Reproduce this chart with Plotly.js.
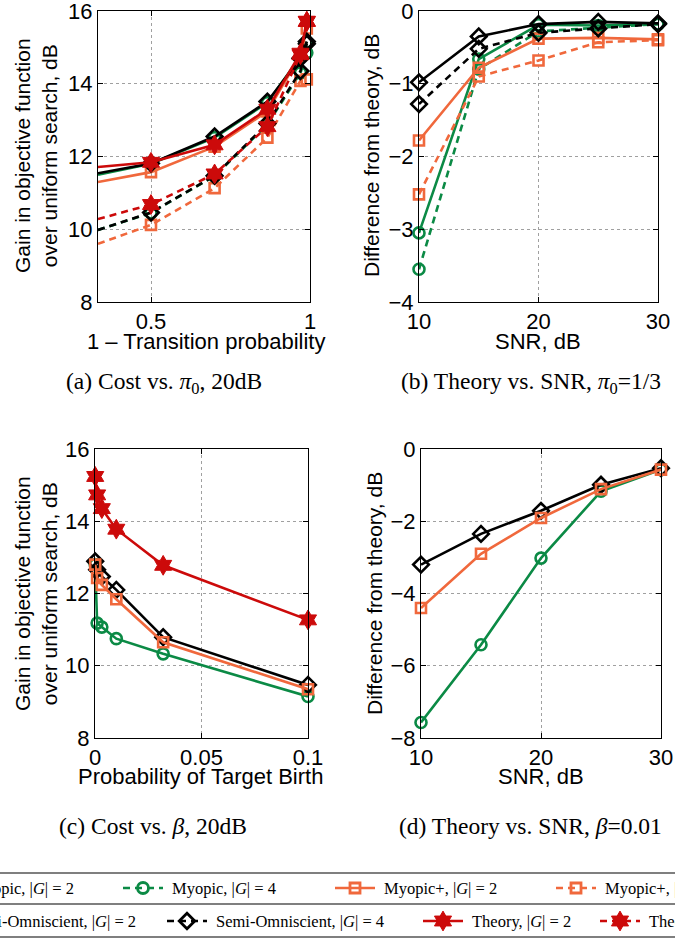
<!DOCTYPE html>
<html>
<head>
<meta charset="utf-8">
<script src="https://cdn.plot.ly/plotly-3.0.1.min.js"></script>
<style>html,body{margin:0;padding:0;background:#fff;}#chart{width:675px;height:939px;}</style>
</head>
<body>
<div id="chart"></div>
<script>
// ---------------- DATA ----------------
// Panel (a): Cost vs. pi0, 20dB
const xA = [0.3333, 0.5, 0.7, 0.866, 0.97, 0.99];
const aMyopic2  = [11.50, 11.80, 12.52, 13.48, 14.75, 15.15];
const aMyopic4  = [9.98, 10.45, 11.46, 12.88, 14.30, 14.85];
const aMyopicP2 = [11.30, 11.57, 12.27, 13.24, 14.78, 15.52];
const aMyopicP4 = [9.60, 10.12, 11.13, 12.52, 14.08, 14.12];
const aSemi2    = [11.54, 11.81, 12.55, 13.51, 14.70, 15.16];
const aSemi4    = [9.98, 10.46, 11.47, 12.91, 14.35, 15.10];
const aTheory2  = [11.71, 11.84, 12.32, 13.30, 14.84, 15.71];
const aTheory4  = [10.28, 10.68, 11.52, 12.82, 14.80, 15.72];

// Panel (b): Theory vs. SNR, pi0 = 1/3
const snrB = [10, 15, 20, 25, 30];
const bMyopic2  = [-3.05, -0.66, -0.19, -0.20, -0.18];
const bMyopic4  = [-3.55, -0.80, -0.28, -0.23, -0.18];
const bMyopicP2 = [-1.78, -0.78, -0.38, -0.37, -0.39];
const bMyopicP4 = [-2.52, -0.90, -0.68, -0.43, -0.40];
const bSemi2    = [-0.98, -0.35, -0.18, -0.15, -0.17];
const bSemi4    = [-1.28, -0.52, -0.30, -0.24, -0.18];

// Panel (c): Cost vs. beta, 20dB
const betaC = [0.0001, 0.001, 0.0032, 0.01, 0.032, 0.1];
const cMyopic2  = [12.80, 11.18, 11.07, 10.75, 10.33, 9.15];
const cMyopicP2 = [12.80, 12.43, 12.24, 11.84, 10.65, 9.35];
const cSemi2    = [12.89, 12.66, 12.47, 12.10, 10.79, 9.47];
const cTheory2  = [15.24, 14.73, 14.35, 13.78, 12.78, 11.27];

// Panel (d): Theory vs. SNR, beta = 0.01
const snrD = [10, 15, 20, 25, 30];
const dMyopic2  = [-7.57, -5.42, -3.02, -1.17, -0.57];
const dMyopicP2 = [-4.40, -2.90, -1.91, -1.11, -0.57];
const dSemi2    = [-3.20, -2.35, -1.71, -0.99, -0.53];

// Tick labels
const tickA = [0.5, 1], tickAText = ['0.5', '1'];
const tickGain = [8, 10, 12, 14, 16];
const tickSNR = [10, 20, 30];
const tickDiffB = [-4, -3, -2, -1, 0];
const tickC = [0, 0.05, 0.1], tickCText = ['0', '0.05', '0.1'];
const tickDiffD = [-8, -6, -4, -2, 0];

// Legend labels
const legendNames = {
  myopic2: 'Myopic, |<i>G</i>| = 2', myopic4: 'Myopic, |<i>G</i>| = 4',
  myopicP2: 'Myopic+, |<i>G</i>| = 2', myopicP4: 'Myopic+, |<i>G</i>| = 4',
  semi2: 'Semi-Omniscient, |<i>G</i>| = 2', semi4: 'Semi-Omniscient, |<i>G</i>| = 4',
  theory2: 'Theory, |<i>G</i>| = 2', theory4: 'Theory, |<i>G</i>| = 4'
};

// ---------------- STYLES ----------------
const GREEN = '#0b8a45', ORANGE = '#f0683c', RED = '#cc0a0a', BLACK = '#000000';
const DASH = '7px,5px';
const styles = {
  myopic2:  {color: GREEN,  dash: 'solid', symbol: 'circle-open', size: 11},
  myopic4:  {color: GREEN,  dash: DASH,    symbol: 'circle-open', size: 11},
  myopicP2: {color: ORANGE, dash: 'solid', symbol: 'square-open', size: 10},
  myopicP4: {color: ORANGE, dash: DASH,    symbol: 'square-open', size: 10},
  semi2:    {color: BLACK,  dash: 'solid', symbol: 'diamond-open', size: 12},
  semi4:    {color: BLACK,  dash: DASH,    symbol: 'diamond-open', size: 12},
  theory2:  {color: RED,    dash: 'solid', symbol: 'hexagram', size: 15},
  theory4:  {color: RED,    dash: DASH,    symbol: 'hexagram', size: 15}
};

function tr(key, x, y, xa, ya) {
  const s = styles[key];
  const filled = s.symbol === 'hexagram';
  return {
    type: 'scatter', mode: 'lines+markers', x: x, y: y, xaxis: xa, yaxis: ya,
    name: legendNames[key], showlegend: false, cliponaxis: false,
    line: {color: s.color, width: 2.6, dash: s.dash},
    marker: {symbol: s.symbol, size: s.size, color: s.color,
             line: {color: s.color, width: filled ? 1 : 2.6}}
  };
}

const traces = [
  tr('myopic2', xA, aMyopic2, 'x', 'y'),
  tr('myopic4', xA, aMyopic4, 'x', 'y'),
  tr('myopicP2', xA, aMyopicP2, 'x', 'y'),
  tr('myopicP4', xA, aMyopicP4, 'x', 'y'),
  tr('semi2', xA, aSemi2, 'x', 'y'),
  tr('semi4', xA, aSemi4, 'x', 'y'),
  tr('theory2', xA, aTheory2, 'x', 'y'),
  tr('theory4', xA, aTheory4, 'x', 'y'),

  tr('myopic2', snrB, bMyopic2, 'x2', 'y2'),
  tr('myopic4', snrB, bMyopic4, 'x2', 'y2'),
  tr('myopicP2', snrB, bMyopicP2, 'x2', 'y2'),
  tr('myopicP4', snrB, bMyopicP4, 'x2', 'y2'),
  tr('semi2', snrB, bSemi2, 'x2', 'y2'),
  tr('semi4', snrB, bSemi4, 'x2', 'y2'),

  tr('myopic2', betaC, cMyopic2, 'x3', 'y3'),
  tr('semi2', betaC, cSemi2, 'x3', 'y3'),
  tr('myopicP2', betaC, cMyopicP2, 'x3', 'y3'),
  tr('theory2', betaC, cTheory2, 'x3', 'y3'),

  tr('myopic2', snrD, dMyopic2, 'x4', 'y4'),
  tr('semi2', snrD, dSemi2, 'x4', 'y4'),
  tr('myopicP2', snrD, dMyopicP2, 'x4', 'y4')
];

// ---------------- LAYOUT ----------------
const W = 675, H = 939;
const px = v => v / W;
const py = v => 1 - v / H;
const tickFont = {family: 'Liberation Sans, Arial, sans-serif', size: 22, color: '#000'};
function ax(extra) {
  return Object.assign({
    showline: true, linecolor: '#000', linewidth: 1, mirror: 'ticks',
    ticks: 'inside', ticklen: 5, tickcolor: '#000', tickwidth: 1,
    showgrid: true, gridcolor: '#a0a0a0', griddash: 'dot', gridwidth: 1,
    zeroline: false, tickfont: tickFont, fixedrange: true,
    ticklabeloverflow: 'allow'
  }, extra);
}

// legend block (pixel coordinates on an overlay axis)
const legendRows = [888, 921];
// xs: left end of the line sample; te: right end of text for items cut at the left edge
const legendItems = [
  {key: 'myopic2', row: 0, xs: -86, te: 76},
  {key: 'myopic4', row: 0, xs: 123},
  {key: 'myopicP2', row: 0, xs: 335},
  {key: 'myopicP4', row: 0, xs: 556},
  {key: 'semi2', row: 1, xs: -92, te: 138},
  {key: 'semi4', row: 1, xs: 167},
  {key: 'theory2', row: 1, xs: 423},
  {key: 'theory4', row: 1, xs: 600}
];
const legFont = {family: 'Liberation Serif, Times New Roman, serif', size: 16.5, color: '#000'};
const legendAnn = [];
legendItems.forEach(it => {
  const s = styles[it.key];
  const yy = legendRows[it.row];
  traces.push({
    type: 'scatter', mode: 'lines', x: [it.xs, it.xs + 40], y: [yy, yy],
    xaxis: 'x5', yaxis: 'y5', showlegend: false, cliponaxis: false, hoverinfo: 'skip',
    line: {color: s.color, width: 2.6, dash: s.dash}
  });
  traces.push({
    type: 'scatter', mode: 'markers', x: [it.xs + 20], y: [yy],
    xaxis: 'x5', yaxis: 'y5', showlegend: false, cliponaxis: false, hoverinfo: 'skip',
    marker: {symbol: s.symbol, size: s.size, color: s.color,
             line: {color: s.color, width: s.symbol === 'hexagram' ? 1 : 2.8}}
  });
  if (it.te !== undefined) {
    legendAnn.push({
      xref: 'paper', yref: 'paper', x: px(it.te), y: py(yy), xanchor: 'right', yanchor: 'middle',
      text: legendNames[it.key], showarrow: false, font: legFont
    });
  } else {
    legendAnn.push({
      xref: 'paper', yref: 'paper', x: px(it.xs + 47), y: py(yy), xanchor: 'left', yanchor: 'middle',
      text: legendNames[it.key], showarrow: false, font: legFont
    });
  }
});

const axisTitleFont = {family: 'Liberation Sans, Arial, sans-serif', size: 22, color: '#000'};
const capFont = {family: 'Liberation Serif, Times New Roman, serif', size: 23.5, color: '#000'};
const yTitleFont = Object.assign({}, axisTitleFont, {size: 21});

const annotations = [
  // y titles
  {xref: 'paper', yref: 'paper', x: px(36), y: py(156), textangle: -90,
   text: 'Gain in objective function<br>over uniform search, dB', showarrow: false,
   xanchor: 'center', yanchor: 'middle', font: yTitleFont},
  {xref: 'paper', yref: 'paper', x: px(372), y: py(156), textangle: -90,
   text: 'Difference from theory, dB', showarrow: false,
   xanchor: 'center', yanchor: 'middle', font: yTitleFont},
  {xref: 'paper', yref: 'paper', x: px(36), y: py(594), textangle: -90,
   text: 'Gain in objective function<br>over uniform search, dB', showarrow: false,
   xanchor: 'center', yanchor: 'middle', font: yTitleFont},
  {xref: 'paper', yref: 'paper', x: px(374), y: py(594), textangle: -90,
   text: 'Difference from theory, dB', showarrow: false,
   xanchor: 'center', yanchor: 'middle', font: yTitleFont},
  // x titles
  {xref: 'paper', yref: 'paper', x: px(206), y: py(341), text: '1 – Transition probability',
   showarrow: false, xanchor: 'center', yanchor: 'middle', font: axisTitleFont},
  {xref: 'paper', yref: 'paper', x: px(538), y: py(341), text: 'SNR, dB',
   showarrow: false, xanchor: 'center', yanchor: 'middle', font: axisTitleFont},
  {xref: 'paper', yref: 'paper', x: px(201), y: py(776), text: 'Probability of Target Birth',
   showarrow: false, xanchor: 'center', yanchor: 'middle', font: axisTitleFont},
  {xref: 'paper', yref: 'paper', x: px(541), y: py(776), text: 'SNR, dB',
   showarrow: false, xanchor: 'center', yanchor: 'middle', font: axisTitleFont},
  // captions
  {xref: 'paper', yref: 'paper', x: px(164), y: py(383), text: '(a) Cost vs. <i>π</i><sub>0</sub>, 20dB',
   showarrow: false, xanchor: 'center', yanchor: 'middle', font: capFont},
  {xref: 'paper', yref: 'paper', x: px(531), y: py(383), text: '(b) Theory vs. SNR, <i>π</i><sub>0</sub>=1/3',
   showarrow: false, xanchor: 'center', yanchor: 'middle', font: capFont},
  {xref: 'paper', yref: 'paper', x: px(153), y: py(826), text: '(c) Cost vs. <i>β</i>, 20dB',
   showarrow: false, xanchor: 'center', yanchor: 'middle', font: capFont},
  {xref: 'paper', yref: 'paper', x: px(530), y: py(826), text: '(d) Theory vs. SNR, <i>β</i>=0.01',
   showarrow: false, xanchor: 'center', yanchor: 'middle', font: capFont}
].concat(legendAnn);

const shapes = [873, 904, 937].map(yv => ({
  type: 'line', xref: 'paper', yref: 'paper', x0: 0, x1: 1, y0: py(yv), y1: py(yv),
  line: {color: '#000', width: 1.2}
}));

const layout = {
  width: W, height: H, margin: {l: 0, r: 0, t: 0, b: 0},
  paper_bgcolor: '#fff', plot_bgcolor: 'rgba(0,0,0,0)', showlegend: false,
  xaxis: ax({domain: [px(98), px(310)], range: [1/3, 1], tickvals: tickA, ticktext: tickAText, anchor: 'y'}),
  yaxis: ax({domain: [py(302), py(11)], range: [8, 16], tickvals: tickGain, anchor: 'x'}),
  xaxis2: ax({domain: [px(419), px(658)], range: [10, 30], tickvals: tickSNR, anchor: 'y2'}),
  yaxis2: ax({domain: [py(302), py(11)], range: [-4, 0], tickvals: tickDiffB, anchor: 'x2'}),
  xaxis3: ax({domain: [px(95), px(308)], range: [0, 0.1], tickvals: tickC, ticktext: tickCText, anchor: 'y3'}),
  yaxis3: ax({domain: [py(738), py(449)], range: [8, 16], tickvals: tickGain, anchor: 'x3'}),
  xaxis4: ax({domain: [px(421), px(661)], range: [10, 30], tickvals: tickSNR, anchor: 'y4'}),
  yaxis4: ax({domain: [py(738), py(449)], range: [-8, 0], tickvals: tickDiffD, anchor: 'x4'}),
  xaxis5: {domain: [0, 1], range: [0, W], visible: false, fixedrange: true, anchor: 'y5'},
  yaxis5: {domain: [0, 1], range: [H, 0], visible: false, fixedrange: true, anchor: 'x5'},
  annotations: annotations,
  shapes: shapes
};

Plotly.newPlot('chart', traces, layout, {staticPlot: true, displayModeBar: false});
</script>
</body>
</html>
